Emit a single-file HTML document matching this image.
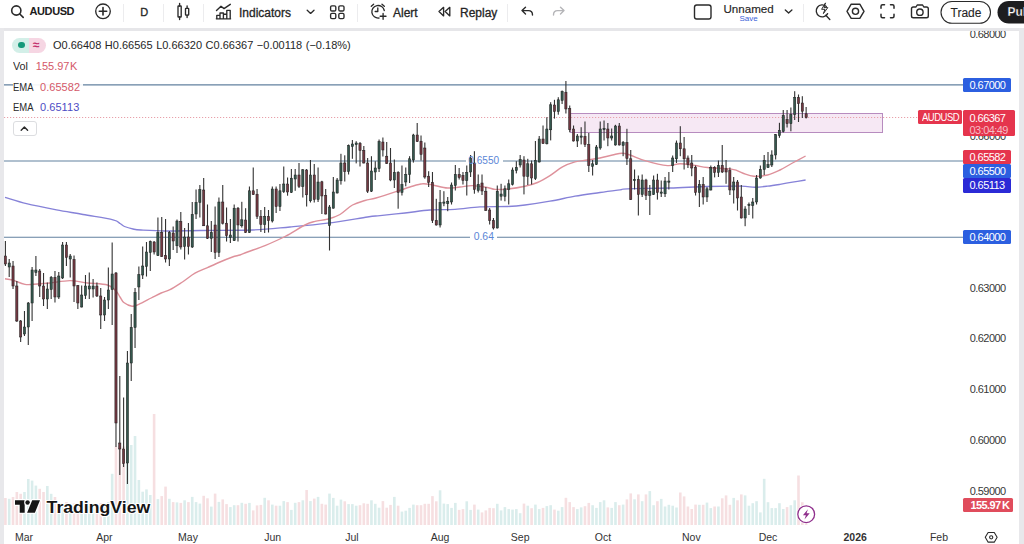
<!DOCTYPE html>
<html><head><meta charset="utf-8">
<style>
html,body{margin:0;padding:0;}
body{width:1024px;height:544px;overflow:hidden;background:#fff;font-family:"Liberation Sans",sans-serif;color:#1c1c1c;position:relative;}
.abs{position:absolute;}
.t{position:absolute;white-space:nowrap;line-height:1;}
#sep{left:0;top:28px;width:1024px;height:3px;background:#e6e6e9;}
#lstrip{left:0;top:28px;width:4.4px;height:516px;background:#e8e8eb;}
#rstrip{left:1018.7px;top:28px;width:5.3px;height:516px;background:#e8e8eb;}
.tb{font-size:12px;color:#252525;top:6.5px;-webkit-text-stroke:0.3px #252525;}
.pl{position:absolute;left:963px;width:48px;height:14px;color:#fff;font-size:11px;letter-spacing:-0.55px;line-height:14px;text-align:left;padding-left:6.5px;box-sizing:border-box;border-radius:1.5px;white-space:nowrap;}
.ax{position:absolute;left:969.7px;font-size:11px;letter-spacing:-0.55px;color:#383838;line-height:12px;}
.tm{position:absolute;top:530.5px;font-size:10.5px;color:#333;line-height:12px;transform:translateX(-50%);}
.vsep{position:absolute;top:4px;width:1px;height:18px;background:#ececee;}
.lg{position:absolute;left:13px;font-size:11px;line-height:14px;height:14px;background:rgba(255,255,255,.92);padding-right:3px;white-space:nowrap;color:#2a2a2a;}
.sx{display:inline-block;transform-origin:0 50%;}
.lv{position:absolute;top:0;}
</style></head><body>
<div id="sep" class="abs"></div>
<div id="lstrip" class="abs"></div>
<div id="rstrip" class="abs"></div>

<svg class="abs" style="left:0;top:0" width="1024" height="544" viewBox="0 0 1024 544">
<g id="vol">
<rect x="4.10" y="498.0" width="2.6" height="27.0" fill="#f6dfe1"/>
<rect x="7.91" y="498.8" width="2.6" height="26.2" fill="#daedec"/>
<rect x="11.73" y="497.0" width="2.6" height="28.0" fill="#f6dfe1"/>
<rect x="15.54" y="492.0" width="2.6" height="33.0" fill="#f6dfe1"/>
<rect x="19.35" y="493.8" width="2.6" height="31.2" fill="#f6dfe1"/>
<rect x="23.17" y="492.0" width="2.6" height="33.0" fill="#daedec"/>
<rect x="26.98" y="479.0" width="2.6" height="46.0" fill="#daedec"/>
<rect x="30.79" y="480.6" width="2.6" height="44.4" fill="#daedec"/>
<rect x="34.60" y="485.6" width="2.6" height="39.4" fill="#daedec"/>
<rect x="38.42" y="488.8" width="2.6" height="36.2" fill="#f6dfe1"/>
<rect x="42.23" y="492.0" width="2.6" height="33.0" fill="#f6dfe1"/>
<rect x="46.04" y="486.0" width="2.6" height="39.0" fill="#daedec"/>
<rect x="49.86" y="493.8" width="2.6" height="31.2" fill="#daedec"/>
<rect x="53.67" y="497.0" width="2.6" height="28.0" fill="#f6dfe1"/>
<rect x="57.48" y="503.0" width="2.6" height="22.0" fill="#daedec"/>
<rect x="61.30" y="505.0" width="2.6" height="20.0" fill="#daedec"/>
<rect x="65.11" y="502.0" width="2.6" height="23.0" fill="#f6dfe1"/>
<rect x="68.92" y="506.0" width="2.6" height="19.0" fill="#daedec"/>
<rect x="72.73" y="503.5" width="2.6" height="21.5" fill="#f6dfe1"/>
<rect x="76.55" y="505.0" width="2.6" height="20.0" fill="#f6dfe1"/>
<rect x="80.36" y="507.0" width="2.6" height="18.0" fill="#daedec"/>
<rect x="84.17" y="504.0" width="2.6" height="21.0" fill="#daedec"/>
<rect x="87.99" y="506.0" width="2.6" height="19.0" fill="#daedec"/>
<rect x="91.80" y="507.0" width="2.6" height="18.0" fill="#daedec"/>
<rect x="95.61" y="505.0" width="2.6" height="20.0" fill="#f6dfe1"/>
<rect x="99.43" y="503.0" width="2.6" height="22.0" fill="#f6dfe1"/>
<rect x="103.24" y="506.0" width="2.6" height="19.0" fill="#daedec"/>
<rect x="107.05" y="502.0" width="2.6" height="23.0" fill="#daedec"/>
<rect x="110.86" y="473.8" width="2.6" height="51.2" fill="#daedec"/>
<rect x="114.68" y="446.5" width="2.6" height="78.5" fill="#f6dfe1"/>
<rect x="118.49" y="446.0" width="2.6" height="79.0" fill="#f6dfe1"/>
<rect x="122.30" y="446.5" width="2.6" height="78.5" fill="#f6dfe1"/>
<rect x="126.12" y="446.0" width="2.6" height="79.0" fill="#daedec"/>
<rect x="129.93" y="445.0" width="2.6" height="80.0" fill="#daedec"/>
<rect x="133.74" y="436.0" width="2.6" height="89.0" fill="#daedec"/>
<rect x="137.56" y="480.0" width="2.6" height="45.0" fill="#daedec"/>
<rect x="141.37" y="491.7" width="2.6" height="33.3" fill="#daedec"/>
<rect x="145.18" y="489.4" width="2.6" height="35.6" fill="#daedec"/>
<rect x="148.99" y="495.0" width="2.6" height="30.0" fill="#daedec"/>
<rect x="152.81" y="414.0" width="2.6" height="111.0" fill="#f6dfe1"/>
<rect x="156.62" y="499.1" width="2.6" height="25.9" fill="#daedec"/>
<rect x="160.43" y="496.1" width="2.6" height="28.9" fill="#f6dfe1"/>
<rect x="164.25" y="486.6" width="2.6" height="38.4" fill="#f6dfe1"/>
<rect x="168.06" y="498.8" width="2.6" height="26.2" fill="#daedec"/>
<rect x="171.87" y="502.1" width="2.6" height="22.9" fill="#f6dfe1"/>
<rect x="175.69" y="502.4" width="2.6" height="22.6" fill="#daedec"/>
<rect x="179.50" y="502.9" width="2.6" height="22.1" fill="#f6dfe1"/>
<rect x="183.31" y="500.3" width="2.6" height="24.7" fill="#daedec"/>
<rect x="187.12" y="502.1" width="2.6" height="22.9" fill="#f6dfe1"/>
<rect x="190.94" y="496.9" width="2.6" height="28.1" fill="#daedec"/>
<rect x="194.75" y="502.1" width="2.6" height="22.9" fill="#daedec"/>
<rect x="198.56" y="503.6" width="2.6" height="21.4" fill="#daedec"/>
<rect x="202.38" y="495.8" width="2.6" height="29.2" fill="#f6dfe1"/>
<rect x="206.19" y="498.3" width="2.6" height="26.7" fill="#f6dfe1"/>
<rect x="210.00" y="506.6" width="2.6" height="18.4" fill="#daedec"/>
<rect x="213.81" y="493.6" width="2.6" height="31.4" fill="#f6dfe1"/>
<rect x="217.63" y="501.9" width="2.6" height="23.1" fill="#daedec"/>
<rect x="221.44" y="499.4" width="2.6" height="25.6" fill="#f6dfe1"/>
<rect x="225.25" y="504.1" width="2.6" height="20.9" fill="#f6dfe1"/>
<rect x="229.07" y="507.1" width="2.6" height="17.9" fill="#daedec"/>
<rect x="232.88" y="505.2" width="2.6" height="19.8" fill="#daedec"/>
<rect x="236.69" y="505.2" width="2.6" height="19.8" fill="#f6dfe1"/>
<rect x="240.51" y="502.8" width="2.6" height="22.2" fill="#daedec"/>
<rect x="244.32" y="503.8" width="2.6" height="21.2" fill="#f6dfe1"/>
<rect x="248.13" y="502.9" width="2.6" height="22.1" fill="#daedec"/>
<rect x="251.94" y="510.4" width="2.6" height="14.6" fill="#f6dfe1"/>
<rect x="255.76" y="505.4" width="2.6" height="19.6" fill="#f6dfe1"/>
<rect x="259.57" y="504.9" width="2.6" height="20.1" fill="#f6dfe1"/>
<rect x="263.38" y="497.8" width="2.6" height="27.2" fill="#daedec"/>
<rect x="267.20" y="500.3" width="2.6" height="24.7" fill="#f6dfe1"/>
<rect x="271.01" y="504.6" width="2.6" height="20.4" fill="#daedec"/>
<rect x="274.82" y="505.7" width="2.6" height="19.3" fill="#f6dfe1"/>
<rect x="278.64" y="505.7" width="2.6" height="19.3" fill="#daedec"/>
<rect x="282.45" y="501.1" width="2.6" height="23.9" fill="#daedec"/>
<rect x="286.26" y="502.1" width="2.6" height="22.9" fill="#f6dfe1"/>
<rect x="290.07" y="509.9" width="2.6" height="15.1" fill="#daedec"/>
<rect x="293.89" y="502.8" width="2.6" height="22.2" fill="#daedec"/>
<rect x="297.70" y="502.1" width="2.6" height="22.9" fill="#f6dfe1"/>
<rect x="301.51" y="500.3" width="2.6" height="24.7" fill="#daedec"/>
<rect x="305.33" y="490.0" width="2.6" height="35.0" fill="#f6dfe1"/>
<rect x="309.14" y="501.1" width="2.6" height="23.9" fill="#daedec"/>
<rect x="312.95" y="498.6" width="2.6" height="26.4" fill="#f6dfe1"/>
<rect x="316.77" y="496.9" width="2.6" height="28.1" fill="#daedec"/>
<rect x="320.58" y="503.8" width="2.6" height="21.2" fill="#f6dfe1"/>
<rect x="324.39" y="504.6" width="2.6" height="20.4" fill="#f6dfe1"/>
<rect x="328.20" y="493.6" width="2.6" height="31.4" fill="#daedec"/>
<rect x="332.02" y="497.9" width="2.6" height="27.1" fill="#daedec"/>
<rect x="335.83" y="505.7" width="2.6" height="19.3" fill="#daedec"/>
<rect x="339.64" y="499.6" width="2.6" height="25.4" fill="#daedec"/>
<rect x="343.46" y="501.3" width="2.6" height="23.7" fill="#f6dfe1"/>
<rect x="347.27" y="504.1" width="2.6" height="20.9" fill="#daedec"/>
<rect x="351.08" y="504.1" width="2.6" height="20.9" fill="#daedec"/>
<rect x="354.90" y="505.7" width="2.6" height="19.3" fill="#daedec"/>
<rect x="358.71" y="505.2" width="2.6" height="19.8" fill="#f6dfe1"/>
<rect x="362.52" y="503.3" width="2.6" height="21.7" fill="#f6dfe1"/>
<rect x="366.33" y="503.8" width="2.6" height="21.2" fill="#f6dfe1"/>
<rect x="370.15" y="500.3" width="2.6" height="24.7" fill="#daedec"/>
<rect x="373.96" y="503.8" width="2.6" height="21.2" fill="#daedec"/>
<rect x="377.77" y="507.7" width="2.6" height="17.3" fill="#daedec"/>
<rect x="381.59" y="501.1" width="2.6" height="23.9" fill="#f6dfe1"/>
<rect x="385.40" y="507.7" width="2.6" height="17.3" fill="#f6dfe1"/>
<rect x="389.21" y="504.9" width="2.6" height="20.1" fill="#f6dfe1"/>
<rect x="393.03" y="496.9" width="2.6" height="28.1" fill="#daedec"/>
<rect x="396.84" y="505.7" width="2.6" height="19.3" fill="#f6dfe1"/>
<rect x="400.65" y="511.6" width="2.6" height="13.4" fill="#daedec"/>
<rect x="404.46" y="510.7" width="2.6" height="14.3" fill="#daedec"/>
<rect x="408.28" y="507.9" width="2.6" height="17.1" fill="#daedec"/>
<rect x="412.09" y="504.6" width="2.6" height="20.4" fill="#daedec"/>
<rect x="415.90" y="505.2" width="2.6" height="19.8" fill="#f6dfe1"/>
<rect x="419.72" y="505.2" width="2.6" height="19.8" fill="#f6dfe1"/>
<rect x="423.53" y="503.8" width="2.6" height="21.2" fill="#f6dfe1"/>
<rect x="427.34" y="503.8" width="2.6" height="21.2" fill="#f6dfe1"/>
<rect x="431.16" y="496.1" width="2.6" height="28.9" fill="#f6dfe1"/>
<rect x="434.97" y="501.3" width="2.6" height="23.7" fill="#f6dfe1"/>
<rect x="438.78" y="490.3" width="2.6" height="34.7" fill="#daedec"/>
<rect x="442.59" y="503.6" width="2.6" height="21.4" fill="#daedec"/>
<rect x="446.41" y="504.1" width="2.6" height="20.9" fill="#daedec"/>
<rect x="450.22" y="507.9" width="2.6" height="17.1" fill="#daedec"/>
<rect x="454.03" y="502.9" width="2.6" height="22.1" fill="#daedec"/>
<rect x="457.85" y="509.9" width="2.6" height="15.1" fill="#f6dfe1"/>
<rect x="461.66" y="509.1" width="2.6" height="15.9" fill="#f6dfe1"/>
<rect x="465.47" y="501.3" width="2.6" height="23.7" fill="#daedec"/>
<rect x="469.29" y="509.9" width="2.6" height="15.1" fill="#daedec"/>
<rect x="473.10" y="504.6" width="2.6" height="20.4" fill="#f6dfe1"/>
<rect x="476.91" y="509.6" width="2.6" height="15.4" fill="#daedec"/>
<rect x="480.72" y="512.4" width="2.6" height="12.6" fill="#f6dfe1"/>
<rect x="484.54" y="510.4" width="2.6" height="14.6" fill="#f6dfe1"/>
<rect x="488.35" y="507.9" width="2.6" height="17.1" fill="#f6dfe1"/>
<rect x="492.16" y="508.2" width="2.6" height="16.8" fill="#f6dfe1"/>
<rect x="495.98" y="503.8" width="2.6" height="21.2" fill="#daedec"/>
<rect x="499.79" y="510.4" width="2.6" height="14.6" fill="#daedec"/>
<rect x="503.60" y="507.1" width="2.6" height="17.9" fill="#daedec"/>
<rect x="507.42" y="509.1" width="2.6" height="15.9" fill="#daedec"/>
<rect x="511.23" y="509.6" width="2.6" height="15.4" fill="#daedec"/>
<rect x="515.04" y="509.1" width="2.6" height="15.9" fill="#daedec"/>
<rect x="518.86" y="513.2" width="2.6" height="11.8" fill="#daedec"/>
<rect x="522.67" y="503.6" width="2.6" height="21.4" fill="#f6dfe1"/>
<rect x="526.48" y="505.7" width="2.6" height="19.3" fill="#daedec"/>
<rect x="530.29" y="508.2" width="2.6" height="16.8" fill="#f6dfe1"/>
<rect x="534.11" y="504.6" width="2.6" height="20.4" fill="#daedec"/>
<rect x="537.92" y="509.1" width="2.6" height="15.9" fill="#daedec"/>
<rect x="541.73" y="507.9" width="2.6" height="17.1" fill="#f6dfe1"/>
<rect x="545.55" y="506.1" width="2.6" height="18.9" fill="#daedec"/>
<rect x="549.36" y="505.2" width="2.6" height="19.8" fill="#daedec"/>
<rect x="553.17" y="509.6" width="2.6" height="15.4" fill="#f6dfe1"/>
<rect x="556.99" y="510.7" width="2.6" height="14.3" fill="#daedec"/>
<rect x="560.80" y="507.1" width="2.6" height="17.9" fill="#daedec"/>
<rect x="564.61" y="497.8" width="2.6" height="27.2" fill="#f6dfe1"/>
<rect x="568.42" y="502.1" width="2.6" height="22.9" fill="#f6dfe1"/>
<rect x="572.24" y="507.1" width="2.6" height="17.9" fill="#f6dfe1"/>
<rect x="576.05" y="509.1" width="2.6" height="15.9" fill="#daedec"/>
<rect x="579.86" y="507.4" width="2.6" height="17.6" fill="#daedec"/>
<rect x="583.68" y="506.2" width="2.6" height="18.8" fill="#f6dfe1"/>
<rect x="587.49" y="502.9" width="2.6" height="22.1" fill="#f6dfe1"/>
<rect x="591.30" y="505.2" width="2.6" height="19.8" fill="#daedec"/>
<rect x="595.12" y="507.9" width="2.6" height="17.1" fill="#daedec"/>
<rect x="598.93" y="502.1" width="2.6" height="22.9" fill="#daedec"/>
<rect x="602.74" y="500.3" width="2.6" height="24.7" fill="#daedec"/>
<rect x="606.55" y="507.4" width="2.6" height="17.6" fill="#f6dfe1"/>
<rect x="610.37" y="507.9" width="2.6" height="17.1" fill="#daedec"/>
<rect x="614.18" y="502.1" width="2.6" height="22.9" fill="#daedec"/>
<rect x="617.99" y="505.2" width="2.6" height="19.8" fill="#f6dfe1"/>
<rect x="621.81" y="504.6" width="2.6" height="20.4" fill="#daedec"/>
<rect x="625.62" y="499.4" width="2.6" height="25.6" fill="#f6dfe1"/>
<rect x="629.43" y="493.4" width="2.6" height="31.6" fill="#f6dfe1"/>
<rect x="633.25" y="499.3" width="2.6" height="25.7" fill="#daedec"/>
<rect x="637.06" y="494.4" width="2.6" height="30.6" fill="#f6dfe1"/>
<rect x="640.87" y="501.2" width="2.6" height="23.8" fill="#daedec"/>
<rect x="644.68" y="494.4" width="2.6" height="30.6" fill="#f6dfe1"/>
<rect x="648.50" y="491.1" width="2.6" height="33.9" fill="#daedec"/>
<rect x="652.31" y="505.2" width="2.6" height="19.8" fill="#daedec"/>
<rect x="656.12" y="501.2" width="2.6" height="23.8" fill="#f6dfe1"/>
<rect x="659.94" y="498.9" width="2.6" height="26.1" fill="#daedec"/>
<rect x="663.75" y="506.5" width="2.6" height="18.5" fill="#daedec"/>
<rect x="667.56" y="504.8" width="2.6" height="20.2" fill="#daedec"/>
<rect x="671.38" y="505.7" width="2.6" height="19.3" fill="#daedec"/>
<rect x="675.19" y="507.5" width="2.6" height="17.5" fill="#daedec"/>
<rect x="679.00" y="492.5" width="2.6" height="32.5" fill="#f6dfe1"/>
<rect x="682.81" y="496.4" width="2.6" height="28.6" fill="#f6dfe1"/>
<rect x="686.63" y="506.5" width="2.6" height="18.5" fill="#f6dfe1"/>
<rect x="690.44" y="509.0" width="2.6" height="16.0" fill="#f6dfe1"/>
<rect x="694.25" y="504.6" width="2.6" height="20.4" fill="#f6dfe1"/>
<rect x="698.07" y="504.8" width="2.6" height="20.2" fill="#daedec"/>
<rect x="701.88" y="504.8" width="2.6" height="20.2" fill="#f6dfe1"/>
<rect x="705.69" y="502.6" width="2.6" height="22.4" fill="#daedec"/>
<rect x="709.51" y="508.1" width="2.6" height="16.9" fill="#daedec"/>
<rect x="713.32" y="506.5" width="2.6" height="18.5" fill="#f6dfe1"/>
<rect x="717.13" y="506.5" width="2.6" height="18.5" fill="#daedec"/>
<rect x="720.94" y="498.3" width="2.6" height="26.7" fill="#f6dfe1"/>
<rect x="724.76" y="495.4" width="2.6" height="29.6" fill="#f6dfe1"/>
<rect x="728.57" y="504.8" width="2.6" height="20.2" fill="#f6dfe1"/>
<rect x="732.38" y="497.9" width="2.6" height="27.1" fill="#daedec"/>
<rect x="736.20" y="500.3" width="2.6" height="24.7" fill="#f6dfe1"/>
<rect x="740.01" y="494.4" width="2.6" height="30.6" fill="#f6dfe1"/>
<rect x="743.82" y="495.4" width="2.6" height="29.6" fill="#daedec"/>
<rect x="747.64" y="505.7" width="2.6" height="19.3" fill="#daedec"/>
<rect x="751.45" y="503.2" width="2.6" height="21.8" fill="#daedec"/>
<rect x="755.26" y="501.2" width="2.6" height="23.8" fill="#daedec"/>
<rect x="759.07" y="512.4" width="2.6" height="12.6" fill="#daedec"/>
<rect x="762.89" y="478.8" width="2.6" height="46.2" fill="#daedec"/>
<rect x="766.70" y="502.2" width="2.6" height="22.8" fill="#daedec"/>
<rect x="770.51" y="508.1" width="2.6" height="16.9" fill="#daedec"/>
<rect x="774.33" y="508.1" width="2.6" height="16.9" fill="#daedec"/>
<rect x="778.14" y="503.2" width="2.6" height="21.8" fill="#daedec"/>
<rect x="781.95" y="509.0" width="2.6" height="16.0" fill="#daedec"/>
<rect x="785.77" y="507.1" width="2.6" height="17.9" fill="#f6dfe1"/>
<rect x="789.58" y="505.2" width="2.6" height="19.8" fill="#daedec"/>
<rect x="793.39" y="500.3" width="2.6" height="24.7" fill="#daedec"/>
<rect x="797.20" y="475.5" width="2.6" height="49.5" fill="#f6dfe1"/>
<rect x="801.02" y="502.2" width="2.6" height="22.8" fill="#f6dfe1"/>
<rect x="804.83" y="505.0" width="2.6" height="20.0" fill="#f6dfe1"/>
</g>
<g stroke="#62819f" stroke-width="1.15">
<line x1="4" y1="84.8" x2="963" y2="84.8"/>
<line x1="4" y1="161.0" x2="466" y2="161.0"/><line x1="503" y1="161.0" x2="963" y2="161.0"/>
<line x1="4" y1="237.2" x2="470" y2="237.2"/><line x1="497" y1="237.2" x2="963" y2="237.2"/>
</g>
<rect x="570.5" y="113.5" width="312" height="19" fill="#f6e8f4" stroke="#b78cbf" stroke-width="1"/>
<line x1="4" y1="117.5" x2="918" y2="117.5" stroke="#e8a0aa" stroke-width="1" stroke-dasharray="1.2 1.8"/>
<path d="M5.0,197.4 C8.6,198.4 17.9,201.6 26.5,203.7 C35.1,205.8 47.1,208.1 56.5,209.9 C65.9,211.7 73.6,212.8 83.0,214.5 C92.4,216.2 106.8,218.3 113.0,219.8 C119.2,221.3 118.1,222.4 120.0,223.5 C121.9,224.6 122.3,225.6 124.5,226.5 C126.7,227.4 130.2,228.4 133.0,229.0 C135.8,229.6 135.5,229.7 141.0,230.0 C146.5,230.3 156.2,230.9 166.0,231.0 C175.8,231.1 185.6,230.7 200.0,230.5 C214.4,230.3 237.5,230.6 252.5,230.0 C267.5,229.4 277.5,228.1 290.0,227.0 C302.5,225.9 314.6,224.9 327.5,223.2 C340.4,221.6 358.8,218.3 367.5,217.0 C376.2,215.7 373.8,216.3 380.0,215.6 C386.2,214.9 396.7,213.9 405.0,213.0 C413.3,212.1 421.7,210.6 430.0,210.0 C438.3,209.4 446.7,209.9 455.0,209.4 C463.3,208.9 471.2,207.4 480.0,206.9 C488.8,206.4 500.0,206.8 507.5,206.5 C515.0,206.2 517.9,205.9 525.0,205.0 C532.1,204.1 541.7,202.7 550.0,201.2 C558.3,199.8 566.7,197.7 575.0,196.2 C583.3,194.8 592.5,193.6 600.0,192.5 C607.5,191.4 615.4,190.4 620.0,189.8 C624.6,189.1 619.2,189.0 627.5,188.8 C635.8,188.5 656.7,188.4 670.0,188.0 C683.3,187.6 695.7,186.8 707.5,186.5 C719.3,186.2 733.1,186.1 741.0,186.2 C748.9,186.4 750.6,187.2 755.0,187.2 C759.4,187.2 763.3,186.7 767.5,186.2 C771.7,185.8 775.8,185.1 780.0,184.4 C784.2,183.7 788.2,183.0 792.5,182.2 C796.8,181.5 803.4,180.4 805.6,180.0" fill="none" stroke="#8682d8" stroke-width="1.35" stroke-linejoin="round"/>
<path d="M5.0,278.8 C6.2,279.0 9.2,279.1 12.5,280.0 C15.8,280.9 20.8,283.7 25.0,284.4 C29.2,285.1 33.3,284.2 37.5,284.0 C41.7,283.8 44.6,283.6 50.0,283.0 C55.4,282.4 63.8,280.6 70.0,280.6 C76.2,280.6 81.2,282.3 87.5,283.0 C93.8,283.7 102.8,283.7 107.5,285.0 C112.2,286.3 113.9,289.0 116.0,291.0 C118.1,293.0 118.7,295.1 120.0,297.0 C121.3,298.9 121.8,301.0 123.8,302.5 C125.8,304.0 129.5,305.9 132.0,306.2 C134.5,306.6 135.5,305.8 138.8,304.4 C142.0,303.0 147.5,299.9 151.2,298.0 C155.0,296.1 158.1,294.4 161.2,293.0 C164.4,291.6 166.5,291.5 170.0,289.7 C173.5,287.9 178.3,284.7 182.5,282.0 C186.7,279.3 190.8,275.6 195.0,273.2 C199.2,270.9 203.3,269.5 207.5,267.6 C211.7,265.7 215.8,263.8 220.0,262.0 C224.2,260.2 229.2,258.2 232.5,257.0 C235.8,255.8 237.5,255.8 240.0,255.0 C242.5,254.2 243.3,253.6 247.5,252.0 C251.7,250.4 258.8,248.2 265.0,245.6 C271.2,243.0 278.3,239.9 285.0,236.5 C291.7,233.1 300.0,227.5 305.0,225.0 C310.0,222.5 311.2,222.4 315.0,221.4 C318.8,220.4 323.3,220.4 327.5,219.2 C331.7,218.1 335.8,216.9 340.0,214.5 C344.2,212.1 348.3,207.3 352.5,205.0 C356.7,202.7 361.1,201.7 365.0,200.5 C368.9,199.3 370.6,199.5 376.0,198.0 C381.4,196.5 391.8,193.1 397.5,191.2 C403.2,189.4 405.8,188.2 410.0,187.0 C414.2,185.8 418.8,184.1 422.5,183.8 C426.2,183.4 428.3,184.3 432.5,185.0 C436.7,185.7 442.9,187.7 447.5,188.0 C452.1,188.3 455.8,187.4 460.0,187.0 C464.2,186.6 467.9,185.5 472.5,185.6 C477.1,185.7 483.8,186.9 487.5,187.5 C491.2,188.1 491.7,189.2 495.0,189.4 C498.3,189.7 502.5,189.5 507.5,189.0 C512.5,188.5 520.0,187.3 525.0,186.2 C530.0,185.2 533.3,184.3 537.5,182.5 C541.7,180.7 545.8,178.2 550.0,175.6 C554.2,173.0 558.3,169.2 562.5,166.9 C566.7,164.6 570.8,163.1 575.0,161.9 C579.2,160.8 583.3,160.7 587.5,160.0 C591.7,159.3 595.8,158.8 600.0,158.0 C604.2,157.2 608.8,155.8 612.5,155.0 C616.2,154.2 619.1,153.2 622.0,153.2 C624.9,153.2 626.2,153.8 630.0,155.0 C633.8,156.2 638.8,158.8 645.0,160.6 C651.2,162.4 661.7,165.1 667.5,165.6 C673.3,166.1 675.4,163.8 680.0,163.8 C684.6,163.7 690.4,164.9 695.0,165.5 C699.6,166.1 701.2,166.8 707.5,167.5 C713.8,168.2 726.7,168.5 732.5,169.4 C738.3,170.3 739.0,171.9 742.5,173.0 C746.0,174.1 749.6,175.9 753.8,176.2 C757.9,176.6 763.1,176.0 767.5,175.0 C771.9,174.0 775.8,172.0 780.0,170.0 C784.2,168.0 788.2,165.3 792.5,163.0 C796.8,160.7 803.4,157.2 805.6,156.0" fill="none" stroke="#de919b" stroke-width="1.4" stroke-linejoin="round"/>
<g id="candles">
<rect x="4.85" y="241.0" width="1.1" height="25.0" fill="#333333"/>
<rect x="4.30" y="256.0" width="2.2" height="8.0" fill="#723841" stroke="#1c1c1c" stroke-width="0.5"/>
<rect x="8.66" y="259.0" width="1.1" height="18.0" fill="#333333"/>
<rect x="8.11" y="263.0" width="2.2" height="4.0" fill="#35584e" stroke="#1c1c1c" stroke-width="0.5"/>
<rect x="12.48" y="261.0" width="1.1" height="28.0" fill="#333333"/>
<rect x="11.93" y="266.0" width="2.2" height="20.0" fill="#723841" stroke="#1c1c1c" stroke-width="0.5"/>
<rect x="16.29" y="281.0" width="1.1" height="41.0" fill="#333333"/>
<rect x="15.74" y="286.0" width="2.2" height="35.0" fill="#723841" stroke="#1c1c1c" stroke-width="0.5"/>
<rect x="20.10" y="320.0" width="1.1" height="22.0" fill="#333333"/>
<rect x="19.55" y="321.0" width="2.2" height="16.0" fill="#723841" stroke="#1c1c1c" stroke-width="0.5"/>
<rect x="23.92" y="311.0" width="1.1" height="25.0" fill="#333333"/>
<rect x="23.37" y="327.0" width="2.2" height="7.0" fill="#35584e" stroke="#1c1c1c" stroke-width="0.5"/>
<rect x="27.73" y="302.0" width="1.1" height="43.0" fill="#333333"/>
<rect x="27.18" y="303.0" width="2.2" height="24.0" fill="#35584e" stroke="#1c1c1c" stroke-width="0.5"/>
<rect x="31.54" y="267.0" width="1.1" height="54.0" fill="#333333"/>
<rect x="30.99" y="270.0" width="2.2" height="33.0" fill="#35584e" stroke="#1c1c1c" stroke-width="0.5"/>
<rect x="35.35" y="256.0" width="1.1" height="20.0" fill="#333333"/>
<rect x="34.80" y="270.0" width="2.2" height="2.5" fill="#35584e" stroke="#1c1c1c" stroke-width="0.5"/>
<rect x="39.17" y="269.0" width="1.1" height="28.0" fill="#333333"/>
<rect x="38.62" y="271.0" width="2.2" height="15.0" fill="#723841" stroke="#1c1c1c" stroke-width="0.5"/>
<rect x="42.98" y="273.0" width="1.1" height="33.0" fill="#333333"/>
<rect x="42.43" y="286.0" width="2.2" height="13.0" fill="#723841" stroke="#1c1c1c" stroke-width="0.5"/>
<rect x="46.79" y="282.5" width="1.1" height="26.5" fill="#333333"/>
<rect x="46.24" y="289.0" width="2.2" height="10.0" fill="#35584e" stroke="#1c1c1c" stroke-width="0.5"/>
<rect x="50.61" y="276.0" width="1.1" height="23.0" fill="#333333"/>
<rect x="50.06" y="277.5" width="2.2" height="12.0" fill="#35584e" stroke="#1c1c1c" stroke-width="0.5"/>
<rect x="54.42" y="271.0" width="1.1" height="31.5" fill="#333333"/>
<rect x="53.87" y="277.5" width="2.2" height="19.5" fill="#723841" stroke="#1c1c1c" stroke-width="0.5"/>
<rect x="58.23" y="272.0" width="1.1" height="27.0" fill="#333333"/>
<rect x="57.68" y="276.0" width="2.2" height="21.0" fill="#35584e" stroke="#1c1c1c" stroke-width="0.5"/>
<rect x="62.05" y="242.0" width="1.1" height="37.0" fill="#333333"/>
<rect x="61.49" y="245.0" width="2.2" height="33.0" fill="#35584e" stroke="#1c1c1c" stroke-width="0.5"/>
<rect x="65.86" y="242.0" width="1.1" height="24.0" fill="#333333"/>
<rect x="65.31" y="245.0" width="2.2" height="12.5" fill="#723841" stroke="#1c1c1c" stroke-width="0.5"/>
<rect x="69.67" y="254.0" width="1.1" height="23.5" fill="#333333"/>
<rect x="69.12" y="256.0" width="2.2" height="3.0" fill="#35584e" stroke="#1c1c1c" stroke-width="0.5"/>
<rect x="73.48" y="255.5" width="1.1" height="46.5" fill="#333333"/>
<rect x="72.93" y="259.5" width="2.2" height="26.5" fill="#723841" stroke="#1c1c1c" stroke-width="0.5"/>
<rect x="77.30" y="285.0" width="1.1" height="24.0" fill="#333333"/>
<rect x="76.75" y="285.5" width="2.2" height="17.5" fill="#723841" stroke="#1c1c1c" stroke-width="0.5"/>
<rect x="81.11" y="285.5" width="1.1" height="22.0" fill="#333333"/>
<rect x="80.56" y="295.0" width="2.2" height="12.0" fill="#35584e" stroke="#1c1c1c" stroke-width="0.5"/>
<rect x="84.92" y="275.0" width="1.1" height="24.0" fill="#333333"/>
<rect x="84.37" y="286.0" width="2.2" height="9.5" fill="#35584e" stroke="#1c1c1c" stroke-width="0.5"/>
<rect x="88.74" y="272.5" width="1.1" height="26.5" fill="#333333"/>
<rect x="88.19" y="286.0" width="2.2" height="3.0" fill="#35584e" stroke="#1c1c1c" stroke-width="0.5"/>
<rect x="92.55" y="279.0" width="1.1" height="18.5" fill="#333333"/>
<rect x="92.00" y="286.0" width="2.2" height="3.0" fill="#35584e" stroke="#1c1c1c" stroke-width="0.5"/>
<rect x="96.36" y="282.5" width="1.1" height="14.5" fill="#333333"/>
<rect x="95.81" y="286.0" width="2.2" height="10.0" fill="#723841" stroke="#1c1c1c" stroke-width="0.5"/>
<rect x="100.18" y="288.0" width="1.1" height="41.0" fill="#333333"/>
<rect x="99.63" y="296.0" width="2.2" height="19.0" fill="#723841" stroke="#1c1c1c" stroke-width="0.5"/>
<rect x="103.99" y="297.0" width="1.1" height="24.0" fill="#333333"/>
<rect x="103.44" y="300.0" width="2.2" height="15.0" fill="#35584e" stroke="#1c1c1c" stroke-width="0.5"/>
<rect x="107.80" y="267.5" width="1.1" height="41.5" fill="#333333"/>
<rect x="107.25" y="290.0" width="2.2" height="10.0" fill="#35584e" stroke="#1c1c1c" stroke-width="0.5"/>
<rect x="111.61" y="242.5" width="1.1" height="82.5" fill="#333333"/>
<rect x="111.06" y="274.0" width="2.2" height="15.5" fill="#35584e" stroke="#1c1c1c" stroke-width="0.5"/>
<rect x="115.43" y="272.0" width="1.1" height="175.0" fill="#333333"/>
<rect x="114.88" y="273.0" width="2.2" height="150.0" fill="#723841" stroke="#1c1c1c" stroke-width="0.5"/>
<rect x="119.24" y="376.0" width="1.1" height="99.0" fill="#333333"/>
<rect x="118.69" y="443.0" width="2.2" height="6.0" fill="#723841" stroke="#1c1c1c" stroke-width="0.5"/>
<rect x="123.05" y="397.5" width="1.1" height="69.5" fill="#333333"/>
<rect x="122.50" y="449.0" width="2.2" height="14.5" fill="#723841" stroke="#1c1c1c" stroke-width="0.5"/>
<rect x="126.87" y="351.0" width="1.1" height="133.0" fill="#333333"/>
<rect x="126.32" y="363.0" width="2.2" height="100.0" fill="#35584e" stroke="#1c1c1c" stroke-width="0.5"/>
<rect x="130.68" y="314.0" width="1.1" height="67.0" fill="#333333"/>
<rect x="130.13" y="327.5" width="2.2" height="35.5" fill="#35584e" stroke="#1c1c1c" stroke-width="0.5"/>
<rect x="134.49" y="288.0" width="1.1" height="60.0" fill="#333333"/>
<rect x="133.94" y="292.5" width="2.2" height="35.0" fill="#35584e" stroke="#1c1c1c" stroke-width="0.5"/>
<rect x="138.31" y="266.5" width="1.1" height="33.5" fill="#333333"/>
<rect x="137.76" y="274.5" width="2.2" height="12.5" fill="#35584e" stroke="#1c1c1c" stroke-width="0.5"/>
<rect x="142.12" y="246.5" width="1.1" height="32.5" fill="#333333"/>
<rect x="141.57" y="266.0" width="2.2" height="9.0" fill="#35584e" stroke="#1c1c1c" stroke-width="0.5"/>
<rect x="145.93" y="242.0" width="1.1" height="34.5" fill="#333333"/>
<rect x="145.38" y="252.0" width="2.2" height="14.5" fill="#35584e" stroke="#1c1c1c" stroke-width="0.5"/>
<rect x="149.74" y="240.5" width="1.1" height="30.5" fill="#333333"/>
<rect x="149.19" y="241.5" width="2.2" height="11.0" fill="#35584e" stroke="#1c1c1c" stroke-width="0.5"/>
<rect x="153.56" y="241.0" width="1.1" height="13.5" fill="#333333"/>
<rect x="153.01" y="242.0" width="2.2" height="10.0" fill="#723841" stroke="#1c1c1c" stroke-width="0.5"/>
<rect x="157.37" y="217.5" width="1.1" height="38.5" fill="#333333"/>
<rect x="156.82" y="232.5" width="2.2" height="23.2" fill="#35584e" stroke="#1c1c1c" stroke-width="0.5"/>
<rect x="161.18" y="217.0" width="1.1" height="40.0" fill="#333333"/>
<rect x="160.63" y="232.5" width="2.2" height="24.0" fill="#723841" stroke="#1c1c1c" stroke-width="0.5"/>
<rect x="165.00" y="219.0" width="1.1" height="43.5" fill="#333333"/>
<rect x="164.45" y="255.5" width="2.2" height="3.5" fill="#723841" stroke="#1c1c1c" stroke-width="0.5"/>
<rect x="168.81" y="231.0" width="1.1" height="35.0" fill="#333333"/>
<rect x="168.26" y="232.5" width="2.2" height="26.5" fill="#35584e" stroke="#1c1c1c" stroke-width="0.5"/>
<rect x="172.62" y="226.5" width="1.1" height="23.5" fill="#333333"/>
<rect x="172.07" y="233.0" width="2.2" height="8.0" fill="#723841" stroke="#1c1c1c" stroke-width="0.5"/>
<rect x="176.44" y="219.5" width="1.1" height="33.5" fill="#333333"/>
<rect x="175.89" y="221.0" width="2.2" height="24.8" fill="#35584e" stroke="#1c1c1c" stroke-width="0.5"/>
<rect x="180.25" y="212.0" width="1.1" height="37.5" fill="#333333"/>
<rect x="179.70" y="221.5" width="2.2" height="25.5" fill="#723841" stroke="#1c1c1c" stroke-width="0.5"/>
<rect x="184.06" y="228.0" width="1.1" height="31.5" fill="#333333"/>
<rect x="183.51" y="237.0" width="2.2" height="9.5" fill="#35584e" stroke="#1c1c1c" stroke-width="0.5"/>
<rect x="187.87" y="223.0" width="1.1" height="31.5" fill="#333333"/>
<rect x="187.32" y="237.0" width="2.2" height="9.5" fill="#723841" stroke="#1c1c1c" stroke-width="0.5"/>
<rect x="191.69" y="202.0" width="1.1" height="46.0" fill="#333333"/>
<rect x="191.14" y="214.5" width="2.2" height="32.5" fill="#35584e" stroke="#1c1c1c" stroke-width="0.5"/>
<rect x="195.50" y="189.5" width="1.1" height="29.5" fill="#333333"/>
<rect x="194.95" y="202.5" width="2.2" height="11.5" fill="#35584e" stroke="#1c1c1c" stroke-width="0.5"/>
<rect x="199.31" y="185.0" width="1.1" height="32.5" fill="#333333"/>
<rect x="198.76" y="189.5" width="2.2" height="13.0" fill="#35584e" stroke="#1c1c1c" stroke-width="0.5"/>
<rect x="203.13" y="178.0" width="1.1" height="48.0" fill="#333333"/>
<rect x="202.58" y="190.0" width="2.2" height="35.8" fill="#723841" stroke="#1c1c1c" stroke-width="0.5"/>
<rect x="206.94" y="204.5" width="1.1" height="34.5" fill="#333333"/>
<rect x="206.39" y="225.8" width="2.2" height="12.5" fill="#723841" stroke="#1c1c1c" stroke-width="0.5"/>
<rect x="210.75" y="221.0" width="1.1" height="31.0" fill="#333333"/>
<rect x="210.20" y="232.5" width="2.2" height="5.8" fill="#35584e" stroke="#1c1c1c" stroke-width="0.5"/>
<rect x="214.56" y="206.5" width="1.1" height="52.5" fill="#333333"/>
<rect x="214.02" y="225.0" width="2.2" height="27.5" fill="#723841" stroke="#1c1c1c" stroke-width="0.5"/>
<rect x="218.38" y="197.5" width="1.1" height="59.5" fill="#333333"/>
<rect x="217.83" y="202.0" width="2.2" height="50.5" fill="#35584e" stroke="#1c1c1c" stroke-width="0.5"/>
<rect x="222.19" y="185.0" width="1.1" height="39.5" fill="#333333"/>
<rect x="221.64" y="202.0" width="2.2" height="21.2" fill="#723841" stroke="#1c1c1c" stroke-width="0.5"/>
<rect x="226.00" y="207.5" width="1.1" height="34.0" fill="#333333"/>
<rect x="225.45" y="223.2" width="2.2" height="12.5" fill="#723841" stroke="#1c1c1c" stroke-width="0.5"/>
<rect x="229.82" y="219.0" width="1.1" height="24.0" fill="#333333"/>
<rect x="229.27" y="235.0" width="2.2" height="2.5" fill="#35584e" stroke="#1c1c1c" stroke-width="0.5"/>
<rect x="233.63" y="204.5" width="1.1" height="36.5" fill="#333333"/>
<rect x="233.08" y="208.2" width="2.2" height="32.5" fill="#35584e" stroke="#1c1c1c" stroke-width="0.5"/>
<rect x="237.44" y="207.0" width="1.1" height="34.5" fill="#333333"/>
<rect x="236.89" y="208.2" width="2.2" height="16.8" fill="#723841" stroke="#1c1c1c" stroke-width="0.5"/>
<rect x="241.26" y="201.8" width="1.1" height="25.8" fill="#333333"/>
<rect x="240.71" y="219.8" width="2.2" height="6.0" fill="#35584e" stroke="#1c1c1c" stroke-width="0.5"/>
<rect x="245.07" y="208.2" width="1.1" height="24.8" fill="#333333"/>
<rect x="244.52" y="220.0" width="2.2" height="12.5" fill="#723841" stroke="#1c1c1c" stroke-width="0.5"/>
<rect x="248.88" y="186.5" width="1.1" height="46.5" fill="#333333"/>
<rect x="248.33" y="190.8" width="2.2" height="41.8" fill="#35584e" stroke="#1c1c1c" stroke-width="0.5"/>
<rect x="252.69" y="167.5" width="1.1" height="27.5" fill="#333333"/>
<rect x="252.15" y="190.8" width="2.2" height="3.8" fill="#723841" stroke="#1c1c1c" stroke-width="0.5"/>
<rect x="256.51" y="189.0" width="1.1" height="30.0" fill="#333333"/>
<rect x="255.96" y="194.2" width="2.2" height="22.2" fill="#723841" stroke="#1c1c1c" stroke-width="0.5"/>
<rect x="260.32" y="210.0" width="1.1" height="22.0" fill="#333333"/>
<rect x="259.77" y="216.5" width="2.2" height="8.0" fill="#723841" stroke="#1c1c1c" stroke-width="0.5"/>
<rect x="264.13" y="207.0" width="1.1" height="26.0" fill="#333333"/>
<rect x="263.58" y="216.5" width="2.2" height="8.0" fill="#35584e" stroke="#1c1c1c" stroke-width="0.5"/>
<rect x="267.95" y="210.0" width="1.1" height="22.5" fill="#333333"/>
<rect x="267.40" y="216.5" width="2.2" height="4.2" fill="#723841" stroke="#1c1c1c" stroke-width="0.5"/>
<rect x="271.76" y="186.5" width="1.1" height="36.0" fill="#333333"/>
<rect x="271.21" y="189.0" width="2.2" height="32.0" fill="#35584e" stroke="#1c1c1c" stroke-width="0.5"/>
<rect x="275.57" y="186.5" width="1.1" height="26.5" fill="#333333"/>
<rect x="275.02" y="189.0" width="2.2" height="17.5" fill="#723841" stroke="#1c1c1c" stroke-width="0.5"/>
<rect x="279.39" y="184.0" width="1.1" height="27.0" fill="#333333"/>
<rect x="278.84" y="190.8" width="2.2" height="15.8" fill="#35584e" stroke="#1c1c1c" stroke-width="0.5"/>
<rect x="283.20" y="166.5" width="1.1" height="26.5" fill="#333333"/>
<rect x="282.65" y="184.0" width="2.2" height="7.5" fill="#35584e" stroke="#1c1c1c" stroke-width="0.5"/>
<rect x="287.01" y="177.5" width="1.1" height="18.2" fill="#333333"/>
<rect x="286.46" y="184.0" width="2.2" height="8.0" fill="#723841" stroke="#1c1c1c" stroke-width="0.5"/>
<rect x="290.82" y="169.0" width="1.1" height="24.0" fill="#333333"/>
<rect x="290.27" y="178.2" width="2.2" height="14.2" fill="#35584e" stroke="#1c1c1c" stroke-width="0.5"/>
<rect x="294.64" y="169.0" width="1.1" height="21.8" fill="#333333"/>
<rect x="294.09" y="175.0" width="2.2" height="4.0" fill="#35584e" stroke="#1c1c1c" stroke-width="0.5"/>
<rect x="298.45" y="163.0" width="1.1" height="25.0" fill="#333333"/>
<rect x="297.90" y="175.0" width="2.2" height="11.5" fill="#723841" stroke="#1c1c1c" stroke-width="0.5"/>
<rect x="302.26" y="169.0" width="1.1" height="28.5" fill="#333333"/>
<rect x="301.71" y="169.8" width="2.2" height="16.8" fill="#35584e" stroke="#1c1c1c" stroke-width="0.5"/>
<rect x="306.08" y="169.0" width="1.1" height="37.5" fill="#333333"/>
<rect x="305.53" y="170.0" width="2.2" height="24.8" fill="#723841" stroke="#1c1c1c" stroke-width="0.5"/>
<rect x="309.89" y="160.0" width="1.1" height="42.5" fill="#333333"/>
<rect x="309.34" y="175.0" width="2.2" height="25.8" fill="#35584e" stroke="#1c1c1c" stroke-width="0.5"/>
<rect x="313.70" y="164.0" width="1.1" height="38.5" fill="#333333"/>
<rect x="313.15" y="175.0" width="2.2" height="24.5" fill="#723841" stroke="#1c1c1c" stroke-width="0.5"/>
<rect x="317.52" y="167.5" width="1.1" height="34.5" fill="#333333"/>
<rect x="316.97" y="182.0" width="2.2" height="17.5" fill="#35584e" stroke="#1c1c1c" stroke-width="0.5"/>
<rect x="321.33" y="180.8" width="1.1" height="33.2" fill="#333333"/>
<rect x="320.78" y="181.8" width="2.2" height="14.2" fill="#723841" stroke="#1c1c1c" stroke-width="0.5"/>
<rect x="325.14" y="189.0" width="1.1" height="25.5" fill="#333333"/>
<rect x="324.59" y="195.5" width="2.2" height="18.5" fill="#723841" stroke="#1c1c1c" stroke-width="0.5"/>
<rect x="328.95" y="205.0" width="1.1" height="45.5" fill="#333333"/>
<rect x="328.40" y="207.0" width="2.2" height="18.5" fill="#35584e" stroke="#1c1c1c" stroke-width="0.5"/>
<rect x="332.77" y="177.0" width="1.1" height="31.5" fill="#333333"/>
<rect x="332.22" y="192.0" width="2.2" height="16.2" fill="#35584e" stroke="#1c1c1c" stroke-width="0.5"/>
<rect x="336.58" y="178.0" width="1.1" height="15.5" fill="#333333"/>
<rect x="336.03" y="180.0" width="2.2" height="13.0" fill="#35584e" stroke="#1c1c1c" stroke-width="0.5"/>
<rect x="340.39" y="153.8" width="1.1" height="30.8" fill="#333333"/>
<rect x="339.84" y="163.0" width="2.2" height="17.8" fill="#35584e" stroke="#1c1c1c" stroke-width="0.5"/>
<rect x="344.21" y="155.3" width="1.1" height="26.2" fill="#333333"/>
<rect x="343.66" y="163.0" width="2.2" height="8.5" fill="#723841" stroke="#1c1c1c" stroke-width="0.5"/>
<rect x="348.02" y="144.5" width="1.1" height="30.0" fill="#333333"/>
<rect x="347.47" y="145.5" width="2.2" height="26.0" fill="#35584e" stroke="#1c1c1c" stroke-width="0.5"/>
<rect x="351.83" y="140.0" width="1.1" height="18.8" fill="#333333"/>
<rect x="351.28" y="144.0" width="2.2" height="2.5" fill="#35584e" stroke="#1c1c1c" stroke-width="0.5"/>
<rect x="355.65" y="141.2" width="1.1" height="22.2" fill="#333333"/>
<rect x="355.10" y="143.0" width="2.2" height="1.7" fill="#35584e" stroke="#1c1c1c" stroke-width="0.5"/>
<rect x="359.46" y="142.0" width="1.1" height="24.5" fill="#333333"/>
<rect x="358.91" y="143.5" width="2.2" height="7.0" fill="#723841" stroke="#1c1c1c" stroke-width="0.5"/>
<rect x="363.27" y="146.0" width="1.1" height="17.5" fill="#333333"/>
<rect x="362.72" y="150.3" width="2.2" height="12.7" fill="#723841" stroke="#1c1c1c" stroke-width="0.5"/>
<rect x="367.08" y="158.0" width="1.1" height="35.0" fill="#333333"/>
<rect x="366.53" y="163.0" width="2.2" height="28.2" fill="#723841" stroke="#1c1c1c" stroke-width="0.5"/>
<rect x="370.90" y="156.2" width="1.1" height="35.8" fill="#333333"/>
<rect x="370.35" y="171.0" width="2.2" height="20.2" fill="#35584e" stroke="#1c1c1c" stroke-width="0.5"/>
<rect x="374.71" y="161.2" width="1.1" height="18.8" fill="#333333"/>
<rect x="374.16" y="168.0" width="2.2" height="4.0" fill="#35584e" stroke="#1c1c1c" stroke-width="0.5"/>
<rect x="378.52" y="139.5" width="1.1" height="32.5" fill="#333333"/>
<rect x="377.97" y="141.5" width="2.2" height="27.2" fill="#35584e" stroke="#1c1c1c" stroke-width="0.5"/>
<rect x="382.34" y="137.5" width="1.1" height="19.0" fill="#333333"/>
<rect x="381.79" y="142.0" width="2.2" height="8.0" fill="#723841" stroke="#1c1c1c" stroke-width="0.5"/>
<rect x="386.15" y="142.0" width="1.1" height="22.0" fill="#333333"/>
<rect x="385.60" y="156.2" width="2.2" height="7.2" fill="#723841" stroke="#1c1c1c" stroke-width="0.5"/>
<rect x="389.96" y="148.0" width="1.1" height="33.2" fill="#333333"/>
<rect x="389.41" y="163.0" width="2.2" height="17.0" fill="#723841" stroke="#1c1c1c" stroke-width="0.5"/>
<rect x="393.78" y="159.5" width="1.1" height="28.5" fill="#333333"/>
<rect x="393.23" y="172.5" width="2.2" height="7.5" fill="#35584e" stroke="#1c1c1c" stroke-width="0.5"/>
<rect x="397.59" y="171.2" width="1.1" height="37.5" fill="#333333"/>
<rect x="397.04" y="172.5" width="2.2" height="20.0" fill="#723841" stroke="#1c1c1c" stroke-width="0.5"/>
<rect x="401.40" y="165.5" width="1.1" height="30.0" fill="#333333"/>
<rect x="400.85" y="184.5" width="2.2" height="8.0" fill="#35584e" stroke="#1c1c1c" stroke-width="0.5"/>
<rect x="405.21" y="167.5" width="1.1" height="18.8" fill="#333333"/>
<rect x="404.66" y="174.5" width="2.2" height="7.5" fill="#35584e" stroke="#1c1c1c" stroke-width="0.5"/>
<rect x="409.03" y="156.2" width="1.1" height="26.8" fill="#333333"/>
<rect x="408.48" y="158.8" width="2.2" height="15.8" fill="#35584e" stroke="#1c1c1c" stroke-width="0.5"/>
<rect x="412.84" y="133.8" width="1.1" height="28.8" fill="#333333"/>
<rect x="412.29" y="135.0" width="2.2" height="25.0" fill="#35584e" stroke="#1c1c1c" stroke-width="0.5"/>
<rect x="416.65" y="123.0" width="1.1" height="19.0" fill="#333333"/>
<rect x="416.10" y="135.0" width="2.2" height="6.5" fill="#723841" stroke="#1c1c1c" stroke-width="0.5"/>
<rect x="420.47" y="135.5" width="1.1" height="25.0" fill="#333333"/>
<rect x="419.92" y="141.2" width="2.2" height="13.2" fill="#723841" stroke="#1c1c1c" stroke-width="0.5"/>
<rect x="424.28" y="142.5" width="1.1" height="36.2" fill="#333333"/>
<rect x="423.73" y="148.0" width="2.2" height="29.0" fill="#723841" stroke="#1c1c1c" stroke-width="0.5"/>
<rect x="428.09" y="171.2" width="1.1" height="15.8" fill="#333333"/>
<rect x="427.54" y="176.2" width="2.2" height="6.2" fill="#723841" stroke="#1c1c1c" stroke-width="0.5"/>
<rect x="431.91" y="172.0" width="1.1" height="51.0" fill="#333333"/>
<rect x="431.36" y="182.5" width="2.2" height="38.0" fill="#723841" stroke="#1c1c1c" stroke-width="0.5"/>
<rect x="435.72" y="198.8" width="1.1" height="26.8" fill="#333333"/>
<rect x="435.17" y="220.5" width="2.2" height="4.5" fill="#723841" stroke="#1c1c1c" stroke-width="0.5"/>
<rect x="439.53" y="190.0" width="1.1" height="37.5" fill="#333333"/>
<rect x="438.98" y="202.5" width="2.2" height="22.5" fill="#35584e" stroke="#1c1c1c" stroke-width="0.5"/>
<rect x="443.34" y="191.2" width="1.1" height="15.0" fill="#333333"/>
<rect x="442.79" y="202.0" width="2.2" height="1.2" fill="#35584e" stroke="#1c1c1c" stroke-width="0.5"/>
<rect x="447.16" y="197.0" width="1.1" height="14.2" fill="#333333"/>
<rect x="446.61" y="201.2" width="2.2" height="2.5" fill="#35584e" stroke="#1c1c1c" stroke-width="0.5"/>
<rect x="450.97" y="182.5" width="1.1" height="22.0" fill="#333333"/>
<rect x="450.42" y="185.0" width="2.2" height="17.0" fill="#35584e" stroke="#1c1c1c" stroke-width="0.5"/>
<rect x="454.78" y="165.0" width="1.1" height="25.5" fill="#333333"/>
<rect x="454.23" y="174.5" width="2.2" height="11.0" fill="#35584e" stroke="#1c1c1c" stroke-width="0.5"/>
<rect x="458.60" y="168.0" width="1.1" height="11.5" fill="#333333"/>
<rect x="458.05" y="174.5" width="2.2" height="3.0" fill="#723841" stroke="#1c1c1c" stroke-width="0.5"/>
<rect x="462.41" y="172.0" width="1.1" height="12.5" fill="#333333"/>
<rect x="461.86" y="175.5" width="2.2" height="5.0" fill="#723841" stroke="#1c1c1c" stroke-width="0.5"/>
<rect x="466.22" y="165.5" width="1.1" height="30.0" fill="#333333"/>
<rect x="465.67" y="172.5" width="2.2" height="8.0" fill="#35584e" stroke="#1c1c1c" stroke-width="0.5"/>
<rect x="470.04" y="155.0" width="1.1" height="22.0" fill="#333333"/>
<rect x="469.49" y="158.0" width="2.2" height="14.0" fill="#35584e" stroke="#1c1c1c" stroke-width="0.5"/>
<rect x="473.85" y="151.2" width="1.1" height="42.5" fill="#333333"/>
<rect x="473.30" y="163.0" width="2.2" height="26.5" fill="#723841" stroke="#1c1c1c" stroke-width="0.5"/>
<rect x="477.66" y="174.5" width="1.1" height="18.0" fill="#333333"/>
<rect x="477.11" y="184.5" width="2.2" height="6.0" fill="#35584e" stroke="#1c1c1c" stroke-width="0.5"/>
<rect x="481.47" y="174.5" width="1.1" height="20.5" fill="#333333"/>
<rect x="480.92" y="183.0" width="2.2" height="8.0" fill="#723841" stroke="#1c1c1c" stroke-width="0.5"/>
<rect x="485.29" y="187.0" width="1.1" height="24.0" fill="#333333"/>
<rect x="484.74" y="191.2" width="2.2" height="19.2" fill="#723841" stroke="#1c1c1c" stroke-width="0.5"/>
<rect x="489.10" y="208.0" width="1.1" height="16.5" fill="#333333"/>
<rect x="488.55" y="210.0" width="2.2" height="10.5" fill="#723841" stroke="#1c1c1c" stroke-width="0.5"/>
<rect x="492.91" y="218.0" width="1.1" height="11.5" fill="#333333"/>
<rect x="492.36" y="220.5" width="2.2" height="7.5" fill="#723841" stroke="#1c1c1c" stroke-width="0.5"/>
<rect x="496.73" y="185.5" width="1.1" height="43.0" fill="#333333"/>
<rect x="496.18" y="191.2" width="2.2" height="36.8" fill="#35584e" stroke="#1c1c1c" stroke-width="0.5"/>
<rect x="500.54" y="183.8" width="1.1" height="16.8" fill="#333333"/>
<rect x="499.99" y="194.0" width="2.2" height="2.2" fill="#35584e" stroke="#1c1c1c" stroke-width="0.5"/>
<rect x="504.35" y="185.5" width="1.1" height="15.8" fill="#333333"/>
<rect x="503.80" y="188.8" width="2.2" height="7.5" fill="#35584e" stroke="#1c1c1c" stroke-width="0.5"/>
<rect x="508.17" y="179.5" width="1.1" height="25.0" fill="#333333"/>
<rect x="507.62" y="183.8" width="2.2" height="5.8" fill="#35584e" stroke="#1c1c1c" stroke-width="0.5"/>
<rect x="511.98" y="167.5" width="1.1" height="18.0" fill="#333333"/>
<rect x="511.43" y="170.0" width="2.2" height="14.5" fill="#35584e" stroke="#1c1c1c" stroke-width="0.5"/>
<rect x="515.79" y="161.2" width="1.1" height="12.2" fill="#333333"/>
<rect x="515.24" y="167.5" width="2.2" height="3.0" fill="#35584e" stroke="#1c1c1c" stroke-width="0.5"/>
<rect x="519.61" y="155.0" width="1.1" height="12.5" fill="#333333"/>
<rect x="519.05" y="159.5" width="2.2" height="5.5" fill="#35584e" stroke="#1c1c1c" stroke-width="0.5"/>
<rect x="523.42" y="156.2" width="1.1" height="38.2" fill="#333333"/>
<rect x="522.87" y="160.0" width="2.2" height="16.2" fill="#723841" stroke="#1c1c1c" stroke-width="0.5"/>
<rect x="527.23" y="158.8" width="1.1" height="26.2" fill="#333333"/>
<rect x="526.68" y="163.8" width="2.2" height="12.5" fill="#35584e" stroke="#1c1c1c" stroke-width="0.5"/>
<rect x="531.04" y="160.5" width="1.1" height="24.0" fill="#333333"/>
<rect x="530.49" y="163.8" width="2.2" height="14.2" fill="#723841" stroke="#1c1c1c" stroke-width="0.5"/>
<rect x="534.86" y="141.0" width="1.1" height="39.0" fill="#333333"/>
<rect x="534.31" y="160.5" width="2.2" height="18.2" fill="#35584e" stroke="#1c1c1c" stroke-width="0.5"/>
<rect x="538.67" y="136.0" width="1.1" height="26.5" fill="#333333"/>
<rect x="538.12" y="139.0" width="2.2" height="23.0" fill="#35584e" stroke="#1c1c1c" stroke-width="0.5"/>
<rect x="542.48" y="125.5" width="1.1" height="18.5" fill="#333333"/>
<rect x="541.93" y="139.0" width="2.2" height="4.5" fill="#723841" stroke="#1c1c1c" stroke-width="0.5"/>
<rect x="546.30" y="117.2" width="1.1" height="27.2" fill="#333333"/>
<rect x="545.75" y="129.0" width="2.2" height="14.8" fill="#35584e" stroke="#1c1c1c" stroke-width="0.5"/>
<rect x="550.11" y="102.2" width="1.1" height="38.2" fill="#333333"/>
<rect x="549.56" y="104.8" width="2.2" height="25.0" fill="#35584e" stroke="#1c1c1c" stroke-width="0.5"/>
<rect x="553.92" y="99.8" width="1.1" height="18.8" fill="#333333"/>
<rect x="553.37" y="105.0" width="2.2" height="6.5" fill="#723841" stroke="#1c1c1c" stroke-width="0.5"/>
<rect x="557.74" y="97.2" width="1.1" height="17.5" fill="#333333"/>
<rect x="557.18" y="99.8" width="2.2" height="11.8" fill="#35584e" stroke="#1c1c1c" stroke-width="0.5"/>
<rect x="561.55" y="90.5" width="1.1" height="13.5" fill="#333333"/>
<rect x="561.00" y="91.5" width="2.2" height="9.0" fill="#35584e" stroke="#1c1c1c" stroke-width="0.5"/>
<rect x="565.36" y="81.0" width="1.1" height="32.5" fill="#333333"/>
<rect x="564.81" y="92.2" width="2.2" height="16.8" fill="#723841" stroke="#1c1c1c" stroke-width="0.5"/>
<rect x="569.17" y="105.5" width="1.1" height="26.8" fill="#333333"/>
<rect x="568.62" y="108.5" width="2.2" height="21.2" fill="#723841" stroke="#1c1c1c" stroke-width="0.5"/>
<rect x="572.99" y="125.5" width="1.1" height="16.0" fill="#333333"/>
<rect x="572.44" y="129.0" width="2.2" height="12.0" fill="#723841" stroke="#1c1c1c" stroke-width="0.5"/>
<rect x="576.80" y="134.0" width="1.1" height="13.0" fill="#333333"/>
<rect x="576.25" y="136.0" width="2.2" height="5.0" fill="#35584e" stroke="#1c1c1c" stroke-width="0.5"/>
<rect x="580.61" y="127.2" width="1.1" height="17.2" fill="#333333"/>
<rect x="580.06" y="136.0" width="2.2" height="1.2" fill="#35584e" stroke="#1c1c1c" stroke-width="0.5"/>
<rect x="584.43" y="121.5" width="1.1" height="25.5" fill="#333333"/>
<rect x="583.88" y="136.5" width="2.2" height="8.0" fill="#723841" stroke="#1c1c1c" stroke-width="0.5"/>
<rect x="588.24" y="133.0" width="1.1" height="39.0" fill="#333333"/>
<rect x="587.69" y="144.5" width="2.2" height="21.0" fill="#723841" stroke="#1c1c1c" stroke-width="0.5"/>
<rect x="592.05" y="160.0" width="1.1" height="15.5" fill="#333333"/>
<rect x="591.50" y="163.8" width="2.2" height="2.5" fill="#35584e" stroke="#1c1c1c" stroke-width="0.5"/>
<rect x="595.87" y="145.0" width="1.1" height="20.0" fill="#333333"/>
<rect x="595.31" y="147.0" width="2.2" height="17.5" fill="#35584e" stroke="#1c1c1c" stroke-width="0.5"/>
<rect x="599.68" y="121.5" width="1.1" height="28.2" fill="#333333"/>
<rect x="599.13" y="129.0" width="2.2" height="19.0" fill="#35584e" stroke="#1c1c1c" stroke-width="0.5"/>
<rect x="603.49" y="120.5" width="1.1" height="20.0" fill="#333333"/>
<rect x="602.94" y="128.5" width="2.2" height="1.2" fill="#35584e" stroke="#1c1c1c" stroke-width="0.5"/>
<rect x="607.30" y="123.0" width="1.1" height="23.2" fill="#333333"/>
<rect x="606.75" y="129.0" width="2.2" height="9.0" fill="#723841" stroke="#1c1c1c" stroke-width="0.5"/>
<rect x="611.12" y="128.5" width="1.1" height="12.0" fill="#333333"/>
<rect x="610.57" y="136.0" width="2.2" height="2.0" fill="#35584e" stroke="#1c1c1c" stroke-width="0.5"/>
<rect x="614.93" y="124.8" width="1.1" height="20.8" fill="#333333"/>
<rect x="614.38" y="126.0" width="2.2" height="19.0" fill="#35584e" stroke="#1c1c1c" stroke-width="0.5"/>
<rect x="618.74" y="123.0" width="1.1" height="22.5" fill="#333333"/>
<rect x="618.19" y="126.0" width="2.2" height="19.0" fill="#723841" stroke="#1c1c1c" stroke-width="0.5"/>
<rect x="622.56" y="141.0" width="1.1" height="15.2" fill="#333333"/>
<rect x="622.01" y="142.5" width="2.2" height="3.0" fill="#35584e" stroke="#1c1c1c" stroke-width="0.5"/>
<rect x="626.37" y="128.8" width="1.1" height="36.2" fill="#333333"/>
<rect x="625.82" y="142.5" width="2.2" height="16.0" fill="#723841" stroke="#1c1c1c" stroke-width="0.5"/>
<rect x="630.18" y="150.0" width="1.1" height="50.0" fill="#333333"/>
<rect x="629.63" y="158.8" width="2.2" height="40.8" fill="#723841" stroke="#1c1c1c" stroke-width="0.5"/>
<rect x="634.00" y="169.5" width="1.1" height="20.0" fill="#333333"/>
<rect x="633.44" y="179.5" width="2.2" height="1.2" fill="#35584e" stroke="#1c1c1c" stroke-width="0.5"/>
<rect x="637.81" y="175.5" width="1.1" height="40.0" fill="#333333"/>
<rect x="637.26" y="179.5" width="2.2" height="15.0" fill="#723841" stroke="#1c1c1c" stroke-width="0.5"/>
<rect x="641.62" y="174.5" width="1.1" height="22.5" fill="#333333"/>
<rect x="641.07" y="180.0" width="2.2" height="14.5" fill="#35584e" stroke="#1c1c1c" stroke-width="0.5"/>
<rect x="645.43" y="178.8" width="1.1" height="21.2" fill="#333333"/>
<rect x="644.88" y="180.0" width="2.2" height="15.5" fill="#723841" stroke="#1c1c1c" stroke-width="0.5"/>
<rect x="649.25" y="185.0" width="1.1" height="30.0" fill="#333333"/>
<rect x="648.70" y="191.2" width="2.2" height="4.2" fill="#35584e" stroke="#1c1c1c" stroke-width="0.5"/>
<rect x="653.06" y="175.5" width="1.1" height="19.5" fill="#333333"/>
<rect x="652.51" y="180.0" width="2.2" height="14.5" fill="#35584e" stroke="#1c1c1c" stroke-width="0.5"/>
<rect x="656.87" y="173.8" width="1.1" height="25.8" fill="#333333"/>
<rect x="656.32" y="180.0" width="2.2" height="12.5" fill="#723841" stroke="#1c1c1c" stroke-width="0.5"/>
<rect x="660.69" y="180.5" width="1.1" height="16.5" fill="#333333"/>
<rect x="660.14" y="192.0" width="2.2" height="1.2" fill="#35584e" stroke="#1c1c1c" stroke-width="0.5"/>
<rect x="664.50" y="177.0" width="1.1" height="20.0" fill="#333333"/>
<rect x="663.95" y="181.0" width="2.2" height="12.8" fill="#35584e" stroke="#1c1c1c" stroke-width="0.5"/>
<rect x="668.31" y="172.0" width="1.1" height="17.5" fill="#333333"/>
<rect x="667.76" y="181.0" width="2.2" height="1.2" fill="#35584e" stroke="#1c1c1c" stroke-width="0.5"/>
<rect x="672.12" y="155.5" width="1.1" height="16.5" fill="#333333"/>
<rect x="671.57" y="158.0" width="2.2" height="7.5" fill="#35584e" stroke="#1c1c1c" stroke-width="0.5"/>
<rect x="675.94" y="140.5" width="1.1" height="22.5" fill="#333333"/>
<rect x="675.39" y="143.0" width="2.2" height="15.8" fill="#35584e" stroke="#1c1c1c" stroke-width="0.5"/>
<rect x="679.75" y="126.2" width="1.1" height="30.0" fill="#333333"/>
<rect x="679.20" y="143.0" width="2.2" height="5.8" fill="#723841" stroke="#1c1c1c" stroke-width="0.5"/>
<rect x="683.56" y="137.0" width="1.1" height="32.5" fill="#333333"/>
<rect x="683.01" y="148.8" width="2.2" height="10.0" fill="#723841" stroke="#1c1c1c" stroke-width="0.5"/>
<rect x="687.38" y="155.5" width="1.1" height="12.5" fill="#333333"/>
<rect x="686.83" y="158.0" width="2.2" height="6.5" fill="#723841" stroke="#1c1c1c" stroke-width="0.5"/>
<rect x="691.19" y="155.0" width="1.1" height="21.2" fill="#333333"/>
<rect x="690.64" y="163.0" width="2.2" height="5.0" fill="#723841" stroke="#1c1c1c" stroke-width="0.5"/>
<rect x="695.00" y="165.5" width="1.1" height="30.0" fill="#333333"/>
<rect x="694.45" y="167.2" width="2.2" height="25.2" fill="#723841" stroke="#1c1c1c" stroke-width="0.5"/>
<rect x="698.82" y="180.0" width="1.1" height="27.0" fill="#333333"/>
<rect x="698.27" y="184.5" width="2.2" height="8.0" fill="#35584e" stroke="#1c1c1c" stroke-width="0.5"/>
<rect x="702.63" y="177.0" width="1.1" height="27.5" fill="#333333"/>
<rect x="702.08" y="184.5" width="2.2" height="12.5" fill="#723841" stroke="#1c1c1c" stroke-width="0.5"/>
<rect x="706.44" y="187.0" width="1.1" height="15.0" fill="#333333"/>
<rect x="705.89" y="188.8" width="2.2" height="8.2" fill="#35584e" stroke="#1c1c1c" stroke-width="0.5"/>
<rect x="710.26" y="165.5" width="1.1" height="25.0" fill="#333333"/>
<rect x="709.71" y="167.5" width="2.2" height="22.5" fill="#35584e" stroke="#1c1c1c" stroke-width="0.5"/>
<rect x="714.07" y="166.2" width="1.1" height="11.2" fill="#333333"/>
<rect x="713.52" y="167.5" width="2.2" height="5.0" fill="#723841" stroke="#1c1c1c" stroke-width="0.5"/>
<rect x="717.88" y="160.5" width="1.1" height="16.5" fill="#333333"/>
<rect x="717.33" y="165.5" width="2.2" height="7.0" fill="#35584e" stroke="#1c1c1c" stroke-width="0.5"/>
<rect x="721.69" y="145.0" width="1.1" height="28.0" fill="#333333"/>
<rect x="721.14" y="165.5" width="2.2" height="6.5" fill="#723841" stroke="#1c1c1c" stroke-width="0.5"/>
<rect x="725.51" y="160.0" width="1.1" height="23.8" fill="#333333"/>
<rect x="724.96" y="168.8" width="2.2" height="3.2" fill="#723841" stroke="#1c1c1c" stroke-width="0.5"/>
<rect x="729.32" y="167.5" width="1.1" height="27.5" fill="#333333"/>
<rect x="728.77" y="170.5" width="2.2" height="19.5" fill="#723841" stroke="#1c1c1c" stroke-width="0.5"/>
<rect x="733.13" y="177.0" width="1.1" height="26.5" fill="#333333"/>
<rect x="732.58" y="182.0" width="2.2" height="8.0" fill="#35584e" stroke="#1c1c1c" stroke-width="0.5"/>
<rect x="736.95" y="180.0" width="1.1" height="30.5" fill="#333333"/>
<rect x="736.40" y="182.0" width="2.2" height="16.0" fill="#723841" stroke="#1c1c1c" stroke-width="0.5"/>
<rect x="740.76" y="185.0" width="1.1" height="33.5" fill="#333333"/>
<rect x="740.21" y="197.0" width="2.2" height="21.0" fill="#723841" stroke="#1c1c1c" stroke-width="0.5"/>
<rect x="744.57" y="206.2" width="1.1" height="20.0" fill="#333333"/>
<rect x="744.02" y="209.0" width="2.2" height="9.0" fill="#35584e" stroke="#1c1c1c" stroke-width="0.5"/>
<rect x="748.39" y="202.5" width="1.1" height="12.5" fill="#333333"/>
<rect x="747.84" y="204.5" width="2.2" height="1.2" fill="#35584e" stroke="#1c1c1c" stroke-width="0.5"/>
<rect x="752.20" y="198.0" width="1.1" height="20.5" fill="#333333"/>
<rect x="751.65" y="202.0" width="2.2" height="3.5" fill="#35584e" stroke="#1c1c1c" stroke-width="0.5"/>
<rect x="756.01" y="175.0" width="1.1" height="29.5" fill="#333333"/>
<rect x="755.46" y="178.0" width="2.2" height="24.0" fill="#35584e" stroke="#1c1c1c" stroke-width="0.5"/>
<rect x="759.82" y="165.5" width="1.1" height="13.2" fill="#333333"/>
<rect x="759.27" y="169.5" width="2.2" height="8.5" fill="#35584e" stroke="#1c1c1c" stroke-width="0.5"/>
<rect x="763.64" y="155.0" width="1.1" height="20.0" fill="#333333"/>
<rect x="763.09" y="160.5" width="2.2" height="9.0" fill="#35584e" stroke="#1c1c1c" stroke-width="0.5"/>
<rect x="767.45" y="152.0" width="1.1" height="16.0" fill="#333333"/>
<rect x="766.90" y="164.5" width="2.2" height="3.0" fill="#35584e" stroke="#1c1c1c" stroke-width="0.5"/>
<rect x="771.26" y="150.3" width="1.1" height="16.7" fill="#333333"/>
<rect x="770.71" y="155.0" width="2.2" height="10.0" fill="#35584e" stroke="#1c1c1c" stroke-width="0.5"/>
<rect x="775.08" y="134.0" width="1.1" height="25.5" fill="#333333"/>
<rect x="774.53" y="134.7" width="2.2" height="20.3" fill="#35584e" stroke="#1c1c1c" stroke-width="0.5"/>
<rect x="778.89" y="122.8" width="1.1" height="15.0" fill="#333333"/>
<rect x="778.34" y="130.3" width="2.2" height="5.3" fill="#35584e" stroke="#1c1c1c" stroke-width="0.5"/>
<rect x="782.70" y="110.0" width="1.1" height="22.5" fill="#333333"/>
<rect x="782.15" y="115.5" width="2.2" height="16.0" fill="#35584e" stroke="#1c1c1c" stroke-width="0.5"/>
<rect x="786.52" y="110.0" width="1.1" height="17.5" fill="#333333"/>
<rect x="785.97" y="119.5" width="2.2" height="4.2" fill="#723841" stroke="#1c1c1c" stroke-width="0.5"/>
<rect x="790.33" y="107.5" width="1.1" height="23.8" fill="#333333"/>
<rect x="789.78" y="114.5" width="2.2" height="9.2" fill="#35584e" stroke="#1c1c1c" stroke-width="0.5"/>
<rect x="794.14" y="91.2" width="1.1" height="28.8" fill="#333333"/>
<rect x="793.59" y="97.5" width="2.2" height="17.0" fill="#35584e" stroke="#1c1c1c" stroke-width="0.5"/>
<rect x="797.95" y="94.5" width="1.1" height="27.5" fill="#333333"/>
<rect x="797.40" y="97.5" width="2.2" height="6.2" fill="#723841" stroke="#1c1c1c" stroke-width="0.5"/>
<rect x="801.77" y="96.2" width="1.1" height="21.8" fill="#333333"/>
<rect x="801.22" y="103.0" width="2.2" height="8.2" fill="#723841" stroke="#1c1c1c" stroke-width="0.5"/>
<rect x="805.58" y="107.0" width="1.1" height="11.5" fill="#333333"/>
<rect x="805.03" y="113.8" width="2.2" height="3.8" fill="#723841" stroke="#1c1c1c" stroke-width="0.5"/>
</g>
<text x="468.3" y="164.2" font-size="10.1" fill="#5b86d6" font-family="Liberation Sans">0.6550</text>
<text x="473.7" y="240.3" font-size="10.4" fill="#5b86d6" font-family="Liberation Sans">0.64</text>
<!-- lightning icon -->
<circle cx="806.2" cy="514.2" r="9.6" fill="#fff"/><circle cx="806.2" cy="514.2" r="8.4" fill="#fff" stroke="#8f2f8c" stroke-width="1.3"/>
<path d="M807.9,509.2 L802.9,515.2 L805.9,515.2 L804.5,519.5 L809.7,513.3 L806.6,513.3 Z" fill="#8f2f8c"/>
</svg>

<!-- legend -->
<div class="abs" style="left:12px;top:37.6px;width:34px;height:15px;border-radius:7.5px;background:linear-gradient(90deg,#d3efe8 0 50%,#f6d6e3 50% 100%);"></div>
<div class="abs" style="left:17.8px;top:41.6px;width:6.8px;height:6.8px;border-radius:50%;background:#16997a;"></div>
<div class="t" style="left:33px;top:39px;font-size:12px;color:#c2306c;font-weight:bold;">≈</div>
<div class="t" id="ohlc" style="left:53px;top:40px;font-size:11px;color:#262626;word-spacing:0.5px;">O0.66408 H0.66565 L0.66320 C0.66367 −0.00118 (−0.18%)</div>
<div class="lg" style="top:59px;width:65px;"><span class="sx" style="transform:scaleX(.98)">Vol</span><span class="lv" style="left:22.8px;color:#d45868">155.97<span style="margin-left:.6px">K</span></span></div>
<div class="lg" style="top:79.5px;width:67px;"><span class="sx" style="transform:scaleX(.86)">EMA</span><span class="lv" style="left:27px;color:#d45868;letter-spacing:.05px">0.65582</span></div>
<div class="lg" style="top:100px;width:67px;"><span class="sx" style="transform:scaleX(.86)">EMA</span><span class="lv" style="left:27px;color:#4d4bc4;letter-spacing:.05px">0.65113</span></div>
<div class="abs" style="left:12.5px;top:120.5px;width:24px;height:15.7px;border:1px solid #dcdde0;border-radius:3px;background:#fff;box-sizing:border-box;"></div>
<svg class="abs" style="left:19px;top:124px" width="11" height="9" viewBox="0 0 11 9"><path d="M2.2,6.2 L5.4,3 L8.6,6.2" fill="none" stroke="#2a2a2a" stroke-width="1.4" stroke-linecap="round" stroke-linejoin="round"/></svg>

<!-- price axis -->
<div class="abs" style="left:960px;top:31px;width:58px;height:10px;overflow:hidden;"><div class="ax" style="left:9.7px;top:-3.4px;">0.68000</div></div>
<div class="ax" style="top:130px;">0.66000</div>
<div class="ax" style="top:282px;">0.63000</div>
<div class="ax" style="top:332px;">0.62000</div>
<div class="ax" style="top:383px;">0.61000</div>
<div class="ax" style="top:434px;">0.60000</div>
<div class="ax" style="top:485.4px;">0.59000</div>
<div class="pl" style="top:78px;background:#2c5fe0;">0.67000</div>
<div class="pl" style="top:110px;height:26px;width:51.5px;background:#e5354d;line-height:12px;padding-top:1.5px;">0.66367<br><span style="color:#f6bcc4">03:04:49</span></div>
<div class="pl" style="left:918px;width:44px;top:110px;background:#e5354d;padding-left:4px;"><span style="display:inline-block;transform:scaleX(.86);transform-origin:0 50%;">AUDUSD</span></div>
<div class="pl" style="top:150px;background:#e5354d;">0.65582</div>
<div class="pl" style="top:164px;background:#2c5fe0;">0.65500</div>
<div class="pl" style="top:178px;height:15px;line-height:15px;background:#2b2ad6;">0.65113</div>
<div class="pl" style="top:230px;background:#2c5fe0;">0.64000</div>
<div class="pl" style="top:498px;height:14px;line-height:14px;background:#e04c5c;font-weight:bold;width:49.5px;padding-left:7.5px;letter-spacing:-0.6px;">155.97<span style="margin-left:1.5px">K</span></div>

<!-- time axis -->
<div class="tm" style="left:24px;">Mar</div>
<div class="tm" style="left:104.3px;">Apr</div>
<div class="tm" style="left:188px;">May</div>
<div class="tm" style="left:272.7px;">Jun</div>
<div class="tm" style="left:352px;">Jul</div>
<div class="tm" style="left:440px;">Aug</div>
<div class="tm" style="left:520.2px;">Sep</div>
<div class="tm" style="left:603px;">Oct</div>
<div class="tm" style="left:691.3px;">Nov</div>
<div class="tm" style="left:768px;">Dec</div>
<div class="tm" style="left:855.2px;font-weight:bold;">2026</div>
<div class="tm" style="left:939px;">Feb</div>
<svg class="abs" style="left:984px;top:530.9px" width="14.4" height="12.6" viewBox="0 0 16 14"><path d="M4.6,1.6 L11.4,1.6 L14.6,7 L11.4,12.4 L4.6,12.4 L1.4,7 Z" fill="none" stroke="#2a2a2a" stroke-width="1.2" stroke-linejoin="round"/><circle cx="8" cy="7" r="1.8" fill="none" stroke="#2a2a2a" stroke-width="1.2"/></svg>

<!-- TradingView logo -->
<svg class="abs" style="left:0px;top:488px" width="170" height="36" viewBox="0 0 170 36">
<g stroke="#fff" stroke-width="2.2" stroke-linejoin="round" paint-order="stroke">
<path d="M15,12.2 H24.7 V24.7 H19.7 V16.8 H15 Z" fill="#151515"/>
<circle cx="27.6" cy="14.4" r="2.25" fill="#151515"/>
<path d="M32.2,12.2 H40 L34.9,24.7 H27.1 Z" fill="#151515"/>
<text x="46.6" y="24.7" font-family="Liberation Sans" font-weight="bold" font-size="16.8" fill="#151515" textLength="103.6" lengthAdjust="spacingAndGlyphs">TradingView</text>
</g>
</svg>

<!-- toolbar -->
<svg class="abs" style="left:0;top:0" width="1024" height="26" viewBox="0 0 1024 26">
<g fill="none" stroke="#2a2a2a" stroke-width="1.6" stroke-linecap="round" stroke-linejoin="round">
<!-- search -->
<circle cx="16.3" cy="10.5" r="4.6"/><line x1="19.8" y1="14" x2="23.2" y2="17.4"/>
<!-- plus circle -->
<circle cx="103" cy="11.3" r="7.3" stroke-width="1.35"/><path d="M99.3,11.3 H106.7 M103,7.6 V15"/>
<!-- candles icon -->
<rect x="178" y="6" width="3.2" height="11" rx=".5" stroke-width="1.35"/><path d="M179.6,3.3 V6 M179.6,17 V19.6" stroke-width="1.35"/>
<rect x="185.5" y="8.3" width="3.2" height="6.8" rx=".5" stroke-width="1.35"/><path d="M187.1,5.8 V8.3 M187.1,15.1 V17.6" stroke-width="1.35"/>
<!-- indicators icon -->
<path d="M216.5,10.5 L221,6.3 L224,8.6 L230.3,4.3" stroke-width="1.4"/>
<path d="M216.8,18.8 V15.3 H220 V18.8 M220,18.8 V13 H223.4 V18.8 M223.4,18.8 V14.2 H226.8 V18.8 M226.8,18.8 V10.3 H230.2 V18.8 M216.3,18.8 H230.6" stroke-width="1.35"/>
<!-- chevron -->
<path d="M307.2,10.3 L310.6,13.4 L314,10.3" stroke-width="1.35"/>
<!-- grid -->
<rect x="330.6" y="5.8" width="5.2" height="5.2" rx="1.3" stroke-width="1.35"/><rect x="338.8" y="5.8" width="5.2" height="5.2" rx="1.3" stroke-width="1.35"/>
<rect x="330.6" y="13.4" width="5.2" height="5.2" rx="1.3" stroke-width="1.35"/><rect x="338.8" y="13.4" width="5.2" height="5.2" rx="1.3" stroke-width="1.35"/>
<!-- alert -->
<path d="M384.3,10.5 A6.3,6.3 0 1 0 379,18" stroke-width="1.35"/><path d="M377.8,8 V11.5 H375.2" stroke-width="1.35"/><path d="M371.3,6.2 L373.6,4.3 M382,4.3 L384.3,6.2" stroke-width="1.35"/><path d="M380.2,16.3 H386 M383.1,13.4 V19.2" stroke-width="1.35"/>
<!-- replay -->
<path d="M443.6,7.3 L439,11.6 L443.6,15.9 Z M449.8,7.3 L445.2,11.6 L449.8,15.9 Z" stroke-width="1.35"/>
<!-- undo -->
<path d="M525.5,7.2 L522,10.6 L525.5,14 M522.3,10.6 H528.5 Q532.5,10.6 532.5,15" stroke-width="1.4"/>
<!-- redo -->
<path d="M560.5,7.2 L564,10.6 L560.5,14 M563.7,10.6 H557.5 Q553.5,10.6 553.5,15" stroke="#b5b5b8" stroke-width="1.4"/>
<!-- layout square -->
<rect x="694.5" y="5" width="16.5" height="14" rx="2.2" stroke-width="1.4"/>
<!-- chevron2 -->
<path d="M785.3,10 L788.6,13 L791.9,10" stroke-width="1.35"/>
<!-- quick search -->
<path d="M826.3,6.5 A6,6 0 1 0 827.6,13.6" stroke-width="1.35"/><line x1="825.8" y1="15.2" x2="829.8" y2="19.4" stroke-width="1.4"/><path d="M825.3,3.2 L821.6,9.3 H825 L823.4,13.6 L827.8,7.6 H824.4 Z" stroke-width="1"/>
<!-- settings hex -->
<path d="M851.2,4.2 L859.8,4.2 L864,11.3 L859.8,18.4 L851.2,18.4 L847,11.3 Z" stroke-width="1.4"/><circle cx="855.5" cy="11.3" r="3.1" stroke-width="1.4"/>
<!-- fullscreen -->
<path d="M881,8.3 V6.3 Q881,4.8 882.5,4.8 H884.5 M890.5,4.8 H892.5 Q894,4.8 894,6.3 V8.3 M894,14.3 V16.3 Q894,17.8 892.5,17.8 H890.5 M884.5,17.8 H882.5 Q881,17.8 881,16.3 V14.3" stroke-width="1.5"/>
<!-- camera -->
<path d="M913.3,7 H916 L917.2,5 H922.6 L923.8,7 H926.5 Q928.3,7 928.3,8.8 V16 Q928.3,17.8 926.5,17.8 H913.3 Q911.5,17.8 911.5,16 V8.8 Q911.5,7 913.3,7 Z" stroke-width="1.4"/><circle cx="919.9" cy="12.2" r="3.2" stroke-width="1.4"/>
</g>
<!-- trade -->
<rect x="941" y="1.5" width="49.5" height="21.7" rx="10.85" fill="#fff" stroke="#2a2a2a" stroke-width="1.1"/>
<rect x="997.5" y="1" width="60" height="22.6" rx="11.3" fill="#1d1d1f"/>
</svg>
<div class="vsep" style="left:123px"></div><div class="vsep" style="left:163px"></div><div class="vsep" style="left:203px"></div>
<div class="vsep" style="left:357px"></div><div class="vsep" style="left:507px"></div><div class="vsep" style="left:803px"></div>
<div class="t" style="left:29.5px;top:6px;font-size:11px;font-weight:bold;color:#1c1c1c;letter-spacing:-0.4px;">AUDUSD</div>
<div class="t tb" style="left:140.3px;top:6.5px;font-size:11px;">D</div>
<div class="t tb" style="left:239px;">Indicators</div>
<div class="t tb" style="left:393px;">Alert</div>
<div class="t tb" style="left:460px;">Replay</div>
<div class="t tb" style="left:723.5px;top:2.5px;font-size:11.6px;-webkit-text-stroke:0.15px #252525;">Unnamed</div>
<div class="t" style="left:739.5px;top:14.5px;font-size:8px;color:#3b62d8;">Save</div>
<div class="t tb" style="left:950.5px;top:6.5px;-webkit-text-stroke:0.1px #252525;">Trade</div>
<div class="t tb" style="left:1007.5px;top:6px;color:#fff;font-weight:bold;">Pub</div>
</body></html>
